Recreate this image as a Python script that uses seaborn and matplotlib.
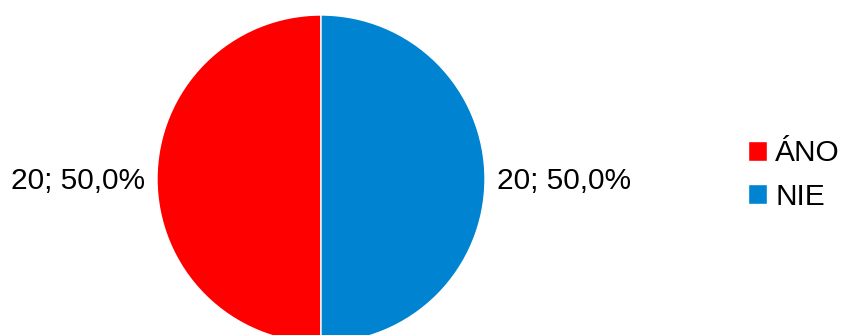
import matplotlib
matplotlib.use("Agg")
import matplotlib.pyplot as plt
import seaborn as sns

categories = ["ÁNO", "NIE"]
counts = [20, 20]
colors = ["#FF0000", "#0084D1"]

sns.set_theme(style="white")
plt.rcParams['font.family'] = ['Liberation Sans', 'DejaVu Sans']

fig = plt.figure(figsize=(8.42, 3.35), dpi=100)
ax = fig.add_axes([0, 0, 1, 1])
ax.set_aspect('equal')
ax.axis('off')

wedges, _ = ax.pie(counts, colors=colors, startangle=90, center=(321, 156), radius=164,
                   wedgeprops=dict(edgecolor='white', linewidth=1))
ax.set_xlim(0, 842)
ax.set_ylim(0, 335)

total = sum(counts)
labels = [f"{c}; {c / total * 100:.1f}%".replace('.', ',') for c in counts]
ax.text(145, 154, labels[0], ha='right', va='center', fontsize=21.5, color='black')
ax.text(497, 154, labels[1], ha='left', va='center', fontsize=21.5, color='black')

ax.legend(wedges, categories, loc='center left', bbox_to_anchor=(748 / 842, 160 / 335),
          frameon=False, fontsize=21.5, handlelength=0.63, handleheight=0.63,
          handletextpad=0.28, labelspacing=0.52, borderaxespad=0, borderpad=0,
          labelcolor='black')

fig.savefig("out.png", dpi=100)
